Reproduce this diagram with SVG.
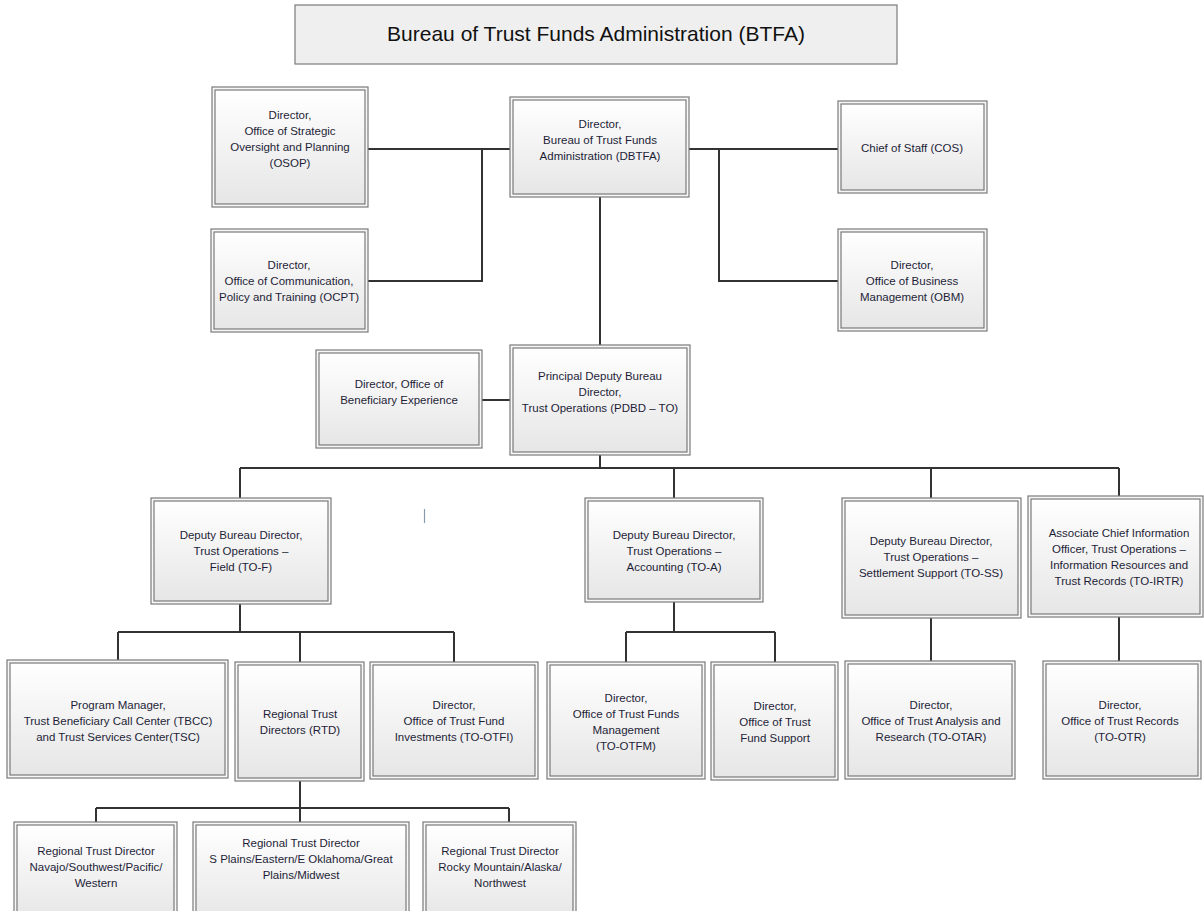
<svg xmlns="http://www.w3.org/2000/svg" width="1204" height="911" viewBox="0 0 1204 911">
<defs>
<linearGradient id="g" x1="0" y1="0" x2="0" y2="1">
<stop offset="0" stop-color="#ffffff"/>
<stop offset="1" stop-color="#e6e6e6"/>
</linearGradient>
</defs>
<style>
.o{fill:#f7f7f7;stroke:#7a7a7a;stroke-width:1.2}
.i{fill:url(#g);stroke:#7a7a7a;stroke-width:1.2}
text{font-family:"Liberation Sans",Arial,sans-serif;font-size:11.5px;fill:#1e1e38;text-anchor:middle}
.c{fill:none;stroke:#333;stroke-width:2}
</style>
<rect width="1204" height="911" fill="#fff"/>
<g id="title">
<rect x="295" y="5" width="602" height="59" fill="#efefef" stroke="#7a7a7a" stroke-width="1.2"/>
<text x="596" y="41" style="font-size:21px;fill:#111">Bureau of Trust Funds Administration (BTFA)</text>
</g>
<g id="connectors">
<path class="c" d="M368 149H510M482 149V281H368M689 149H838M719 149V281H838M600 197V345M482 400H510"/>
<path class="c" d="M600 455V468M240 468H1119M240 468V498M674 468V498M931 468V498M1119 468V496"/>
<path class="c" d="M240 604V632M118 632H454M118 632V660M300 632V662M454 632V662"/>
<path class="c" d="M674 602V632M626 632H775M626 632V662M775 632V662"/>
<path class="c" d="M931 618V661M1119 617V661"/>
<path class="c" d="M300 781V808M96 808H509M96 808V822M300 808V822M509 808V822"/>
</g>
<g id="osop"><rect class="o" x="212" y="87" width="156" height="120"/><rect class="i" x="215" y="90" width="150" height="114"/>
<text x="290" y="119">Director,</text><text x="290" y="135">Office of Strategic</text><text x="290" y="151">Oversight and Planning</text><text x="290" y="167">(OSOP)</text></g>
<g id="dbtfa"><rect class="o" x="510" y="97" width="179" height="100"/><rect class="i" x="513" y="100" width="173" height="94"/>
<text x="600" y="128">Director,</text><text x="600" y="144">Bureau of Trust Funds</text><text x="600" y="160">Administration (DBTFA)</text></g>
<g id="cos"><rect class="o" x="838" y="101" width="149" height="92"/><rect class="i" x="841" y="104" width="143" height="86"/>
<text x="912" y="152">Chief of Staff (COS)</text></g>
<g id="ocpt"><rect class="o" x="211" y="229" width="157" height="103"/><rect class="i" x="214" y="232" width="151" height="97"/>
<text x="289" y="269">Director,</text><text x="289" y="285">Office of Communication,</text><text x="289" y="301">Policy and Training (OCPT)</text></g>
<g id="obm"><rect class="o" x="838" y="229" width="149" height="102"/><rect class="i" x="841" y="232" width="143" height="96"/>
<text x="912" y="269">Director,</text><text x="912" y="285">Office of Business</text><text x="912" y="301">Management (OBM)</text></g>
<g id="obe"><rect class="o" x="316" y="350" width="166" height="98"/><rect class="i" x="319" y="353" width="160" height="92"/>
<text x="399" y="388">Director, Office of</text><text x="399" y="404">Beneficiary Experience</text></g>
<g id="pdbd"><rect class="o" x="510" y="345" width="180" height="110"/><rect class="i" x="513" y="348" width="174" height="104"/>
<text x="600" y="380">Principal Deputy Bureau</text><text x="600" y="396">Director,</text><text x="600" y="412">Trust Operations (PDBD – TO)</text></g>
<g id="tof"><rect class="o" x="151" y="498" width="180" height="106"/><rect class="i" x="154" y="501" width="174" height="100"/>
<text x="241" y="539">Deputy Bureau Director,</text><text x="241" y="555">Trust Operations –</text><text x="241" y="571">Field (TO-F)</text></g>
<g id="toa"><rect class="o" x="585" y="498" width="178" height="104"/><rect class="i" x="588" y="501" width="172" height="98"/>
<text x="674" y="539">Deputy Bureau Director,</text><text x="674" y="555">Trust Operations –</text><text x="674" y="571">Accounting (TO-A)</text></g>
<g id="toss"><rect class="o" x="842" y="498" width="179" height="120"/><rect class="i" x="845" y="501" width="173" height="114"/>
<text x="931" y="545">Deputy Bureau Director,</text><text x="931" y="561">Trust Operations –</text><text x="931" y="577">Settlement Support (TO-SS)</text></g>
<g id="toirtr"><rect class="o" x="1028" y="496" width="175" height="121"/><rect class="i" x="1031" y="499" width="169" height="115"/>
<text x="1119" y="537">Associate Chief Information</text><text x="1119" y="553">Officer, Trust Operations –</text><text x="1119" y="569">Information Resources and</text><text x="1119" y="585">Trust Records (TO-IRTR)</text></g>
<g id="tbcc"><rect class="o" x="7" y="660" width="221" height="118"/><rect class="i" x="10" y="663" width="215" height="112"/>
<text x="118" y="709">Program Manager,</text><text x="118" y="725">Trust Beneficiary Call Center (TBCC)</text><text x="118" y="741">and Trust Services Center(TSC)</text></g>
<g id="rtd"><rect class="o" x="235" y="662" width="129" height="119"/><rect class="i" x="238" y="665" width="123" height="113"/>
<text x="300" y="718">Regional Trust</text><text x="300" y="734">Directors (RTD)</text></g>
<g id="otfi"><rect class="o" x="370" y="662" width="168" height="117"/><rect class="i" x="373" y="665" width="162" height="111"/>
<text x="454" y="709">Director,</text><text x="454" y="725">Office of Trust Fund</text><text x="454" y="741">Investments (TO-OTFI)</text></g>
<g id="otfm"><rect class="o" x="547" y="662" width="158" height="117"/><rect class="i" x="550" y="665" width="152" height="111"/>
<text x="626" y="702">Director,</text><text x="626" y="718">Office of Trust Funds</text><text x="626" y="734">Management</text><text x="626" y="750">(TO-OTFM)</text></g>
<g id="ofs"><rect class="o" x="711" y="662" width="127" height="118"/><rect class="i" x="714" y="665" width="121" height="112"/>
<text x="775" y="710">Director,</text><text x="775" y="726">Office of Trust</text><text x="775" y="742">Fund Support</text></g>
<g id="otar"><rect class="o" x="845" y="661" width="170" height="118"/><rect class="i" x="848" y="664" width="164" height="112"/>
<text x="931" y="709">Director,</text><text x="931" y="725">Office of Trust Analysis and</text><text x="931" y="741">Research (TO-OTAR)</text></g>
<g id="otr"><rect class="o" x="1043" y="661" width="158" height="118"/><rect class="i" x="1046" y="664" width="152" height="112"/>
<text x="1120" y="709">Director,</text><text x="1120" y="725">Office of Trust Records</text><text x="1120" y="741">(TO-OTR)</text></g>
<g id="navajo"><rect class="o" x="14" y="822" width="163" height="95"/><rect class="i" x="17" y="825" width="157" height="95"/>
<text x="96" y="855">Regional Trust Director</text><text x="96" y="871">Navajo/Southwest/Pacific/</text><text x="96" y="887">Western</text></g>
<g id="splains"><rect class="o" x="193" y="822" width="216" height="95"/><rect class="i" x="196" y="825" width="210" height="95"/>
<text x="301" y="847">Regional Trust Director</text><text x="301" y="863">S Plains/Eastern/E Oklahoma/Great</text><text x="301" y="879">Plains/Midwest</text></g>
<g id="rocky"><rect class="o" x="423" y="822" width="153" height="95"/><rect class="i" x="426" y="825" width="147" height="95"/>
<text x="500" y="855">Regional Trust Director</text><text x="500" y="871">Rocky Mountain/Alaska/</text><text x="500" y="887">Northwest</text></g>
<line x1="424.5" y1="509" x2="424.5" y2="523" stroke="#8a9aa8" stroke-width="1.2"/>
</svg>
